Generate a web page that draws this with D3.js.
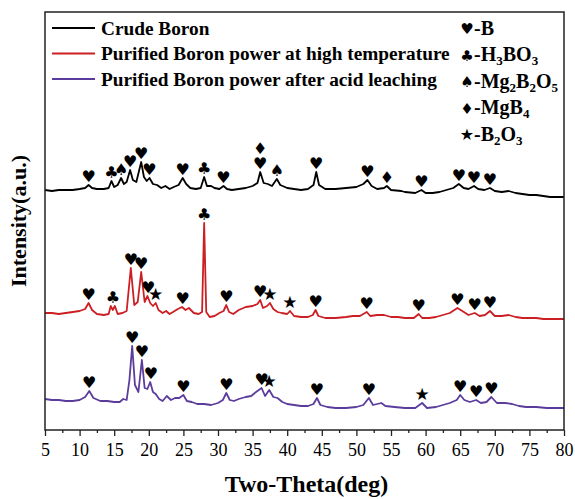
<!DOCTYPE html>
<html>
<head>
<meta charset="utf-8">
<script src="https://cdn.jsdelivr.net/npm/d3@7"></script>
<style>
  body { margin: 0; background: #fff; }
  text { font-family: "Liberation Serif", "Times New Roman", serif; }
  .mark { font-family: "DejaVu Sans", sans-serif; }
</style>
</head>
<body>
<svg id="chart" width="575" height="499"></svg>
<script>
// XRD patterns: [two-theta, intensity (a.u.)]
var crudeBoron = [[5,240],[6,239],[7,240],[8,240],[9,240],[10,241],[10.8,242],[11.3,245],[11.8,242],[12.5,241],[13.5,241],[14.2,242],[14.6,249],[15,243],[15.5,245],[16,252],[16.4,246],[16.8,248],[17.3,260],[17.7,250],[18.2,248],[18.9,268],[19.3,253],[19.7,249],[20.1,252],[20.6,246],[21.2,245],[21.8,242],[22.4,244],[23,241],[23.6,243],[24.3,245],[24.9,252],[25.4,246],[26,242],[26.8,241],[27.5,242],[28,253],[28.4,244],[29,244],[29.5,242],[30.2,241],[30.8,244],[31.3,241],[32,240],[33,241],[34,242],[35,244],[35.7,247],[36.1,258],[36.6,247],[37.2,246],[37.8,244],[38.5,251],[39,245],[40,242],[41,241],[42,240],[43,241],[43.8,245],[44.2,258],[44.6,245],[45.5,241],[47,241],[48.5,242],[50,243],[51,246],[51.6,250],[52.2,244],[53,241],[54,242],[54.4,244],[55,240],[56.5,239],[57,238],[58.5,237],[59.4,240],[60,237],[61,237],[62,238],[63,240],[64,242],[64.8,246],[65.5,242],[66.2,241],[67,244],[67.6,241],[68.5,240],[69.3,242],[70,239],[71,238],[72,239],[73,237],[74,236],[75,235],[76,235],[77,234],[78,233],[79,233],[80,233]];

var highTemp = [[5,117],[6,117],[7,116],[8,117],[9,118],[10,119],[10.8,121],[11.3,127],[11.8,120],[12.5,116],[13.5,115],[14.2,116],[14.5,124],[14.8,120],[15.1,124],[15.5,116],[16.2,117],[16.8,119],[17.4,162],[17.9,125],[18.4,128],[18.9,158],[19.4,128],[19.8,134],[20.2,127],[20.6,124],[21,127],[21.4,120],[22,117],[22.5,119],[23,116],[23.5,118],[24.2,121],[24.8,123],[25.3,120],[25.8,122],[26.5,117],[27.2,116],[27.7,118],[28,207],[28.3,118],[28.8,113],[29.5,114],[30.2,117],[30.8,119],[31.2,125],[31.6,118],[32.2,116],[33,120],[34,123],[35,124],[35.7,126],[36.1,130],[36.5,122],[37.1,124],[37.5,127],[38,121],[38.6,118],[39.2,117],[40,116],[40.4,119],[41,114],[42,113],[43,113],[43.7,115],[44.1,120],[44.5,114],[45.5,112],[47,112],[48.5,113],[49.5,114],[50.5,114],[51.5,118],[52,114],[53,115],[54,115],[55,113],[56,113],[57,112],[58.3,112],[59,116],[59.5,112],[60.5,112],[61.5,113],[62.5,115],[63.5,117],[64.6,122],[65.3,119],[66.2,115],[67.1,117],[67.8,114],[68.6,115],[69.3,119],[70,114],[71,114],[72,115],[73,113],[74,112],[75,112],[76,112],[77,111],[78,111],[79,111],[80,111]];

var acidLeach = [[5,31],[6,30],[7,30],[8,29],[9,29],[10,30],[10.8,33],[11.4,39],[12,32],[13,29],[14,29],[15,28],[15.8,28],[16.3,31],[16.8,30],[17.2,50],[17.6,84],[18,45],[18.5,38],[19,70],[19.4,42],[19.8,41],[20.2,48],[20.6,38],[21,36],[21.5,31],[22,29],[22.6,34],[23.2,30],[23.8,32],[24.4,32],[25,35],[25.5,29],[26.2,28],[27,26],[28,26],[29,25],[30,27],[30.7,30],[31.2,37],[31.7,30],[32.3,29],[33,31],[34,33],[34.8,34],[35.5,38],[36.3,42],[36.8,34],[37.4,40],[38,33],[38.6,32],[39.3,28],[40,26],[41,25],[42,24],[43,24],[43.8,26],[44.3,32],[44.8,25],[45.8,23],[47,22],[48.5,22],[50,23],[51,25],[51.8,32],[52.4,25],[53,26],[53.6,27],[54.2,24],[55.5,23],[57,22],[58.5,22],[59.5,27],[60.2,22],[61.5,23],[62.5,25],[63.5,27],[64.5,30],[65,35],[65.6,30],[66.4,28],[67.3,30],[68,27],[68.8,28],[69.5,33],[70.3,27],[71.5,27],[72.5,26],[73.5,24],[74.5,23],[76,23],[77.5,22],[79,22],[80,22]];

// phase marks: [two-theta, symbol, stack level]
var crudeMarks = [[11.3,"♥",0],[14.6,"♣",0],[16,"♠",0],[17.3,"♥",0],[18.9,"♥",0],[20.1,"♥",0],[24.9,"♥",0],[28,"♣",0],[30.8,"♥",0],[36.1,"♥",0],[36.1,"♦",1],[38.5,"♠",0],[44.2,"♥",0],[51.6,"♥",0],[54.4,"♦",0],[59.4,"♥",0],[64.8,"♥",0],[67,"♥",0],[69.3,"♥",0]];
var highMarks = [[11.3,"♥",0],[14.8,"♣",0],[17.4,"♥",0],[18.9,"♥",0],[19.9,"♥",0],[21,"★",0],[24.9,"♥",0],[28,"♣",0],[31.2,"♥",0],[36.1,"♥",0],[37.5,"★",0],[40.4,"★",0],[44.1,"♥",0],[51.5,"♥",0],[59,"♥",0],[64.6,"♥",0],[67.1,"♥",0],[69.3,"♥",0]];
var acidMarks = [[11.4,"♥",0],[17.6,"♥",0],[19,"♥",0],[20.3,"♥",0],[25,"♥",0],[31.2,"♥",0],[36.3,"♥",0],[37.4,"★",0],[44.3,"♥",0],[51.8,"♥",0],[59.5,"★",0],[65,"♥",0],[67.3,"♥",0],[69.5,"♥",0]];

var seriesNames = ["Crude Boron", "Purified Boron power at high temperature", "Purified Boron power after acid leaching"];
var seriesColors = ["#000000", "#cc1f24", "#5b3c9c"];
var phaseSymbols = ["♥", "♣", "♠", "♦", "★"];
var phaseNames = [["-B"], ["-H", "3", "BO", "3"], ["-Mg", "2", "B", "2", "O", "5"], ["-MgB", "4"], ["-B", "2", "O", "3"]];
var xTicks = d3.range(5, 81, 5);

var plotLeft = 45, plotRight = 564, plotTop = 12, plotBottom = 430;
var svg = d3.select("#chart");

var x = d3.scaleLinear().domain([5, 80]).range([plotLeft, plotRight]);
var y = d3.scaleLinear().domain([0, 420]).range([plotBottom, plotBottom - 420]);

var line = d3.line()
    .x(function(d) { return x(d[0]); })
    .y(function(d) { return y(d[1]); });

var allSeries = [crudeBoron, highTemp, acidLeach];
var allMarks = [crudeMarks, highMarks, acidMarks];

allSeries.forEach(function(s, i) {
    svg.append("path")
        .datum(s)
        .attr("d", line)
        .attr("fill", "none")
        .attr("stroke", seriesColors[i])
        .attr("stroke-width", 1.8)
        .attr("stroke-linejoin", "round");
});

// peak marks sit just above the local maximum of the trace
function peakTop(s, t) {
    var near = s.filter(function(d) { return Math.abs(d[0] - t) <= 0.45; });
    return d3.max(near, function(d) { return d[1]; });
}

allMarks.forEach(function(marks, i) {
    svg.selectAll(null)
        .data(marks)
        .enter()
        .append("text")
        .attr("class", "mark")
        .attr("x", function(d) { return x(d[0]); })
        .attr("y", function(d) { return y(peakTop(allSeries[i], d[0])) - 3 - d[2] * 15; })
        .attr("text-anchor", "middle")
        .attr("font-size", function(d) { return d[1] === "★" ? 17 : 16; })
        .attr("fill", "#000")
        .text(function(d) { return d[1]; });
});

// frame
svg.append("rect")
    .attr("x", plotLeft).attr("y", plotTop)
    .attr("width", plotRight - plotLeft).attr("height", plotBottom - plotTop)
    .attr("fill", "none")
    .attr("stroke", "#222")
    .attr("stroke-width", 1.5);

// x axis
var xAxis = svg.append("g")
    .attr("transform", "translate(0," + plotBottom + ")")
    .call(d3.axisBottom(x).tickValues(xTicks).tickSize(6).tickPadding(7).tickFormat(d3.format("d")));
xAxis.select(".domain").remove();
xAxis.selectAll("line").attr("stroke", "#222").attr("stroke-width", 1.3);
xAxis.selectAll("text")
    .attr("font-family", "Liberation Serif, serif")
    .attr("font-size", 18)
    .attr("fill", "#000");

var minor = svg.append("g")
    .attr("transform", "translate(0," + plotBottom + ")")
    .call(d3.axisBottom(x).tickValues(d3.range(7.5, 80, 5)).tickSize(3).tickFormat(""));
minor.select(".domain").remove();
minor.selectAll("line").attr("stroke", "#222").attr("stroke-width", 1.3);

svg.append("text")
    .attr("x", (plotLeft + plotRight) / 2 + 2)
    .attr("y", 492)
    .attr("text-anchor", "middle")
    .attr("font-size", 24)
    .attr("font-weight", "bold")
    .text("Two-Theta(deg)");

svg.append("text")
    .attr("transform", "translate(26," + ((plotTop + plotBottom) / 2) + ") rotate(-90)")
    .attr("text-anchor", "middle")
    .attr("font-size", 22)
    .attr("font-weight", "bold")
    .text("Intensity(a.u.)");

// series legend
var legend = svg.append("g");
seriesNames.forEach(function(name, i) {
    var ly = 28 + i * 25.5;
    legend.append("line")
        .attr("x1", 52).attr("x2", 95)
        .attr("y1", ly).attr("y2", ly)
        .attr("stroke", seriesColors[i])
        .attr("stroke-width", 1.8);
    legend.append("text")
        .attr("x", 101).attr("y", ly + 6.5)
        .attr("font-size", 19.3)
        .attr("font-weight", "bold")
        .text(name);
});

// phase legend
phaseSymbols.forEach(function(sym, i) {
    var ly = 28 + i * 26.5;
    legend.append("text")
        .attr("class", "mark")
        .attr("x", 467).attr("y", ly + 6)
        .attr("text-anchor", "middle")
        .attr("font-size", sym === "★" ? 16 : 15)
        .text(sym);
    var t = legend.append("text")
        .attr("x", 474).attr("y", ly + 6.5)
        .attr("font-size", 20)
        .attr("font-weight", "bold");
    phaseNames[i].forEach(function(part, k) {
        var sub = k % 2 === 1;
        t.append("tspan")
            .attr("font-size", sub ? 13 : 20)
            .attr("dy", sub ? 4 : (k > 0 ? -4 : 0))
            .text(part);
    });
});
</script>
</body>
</html>
